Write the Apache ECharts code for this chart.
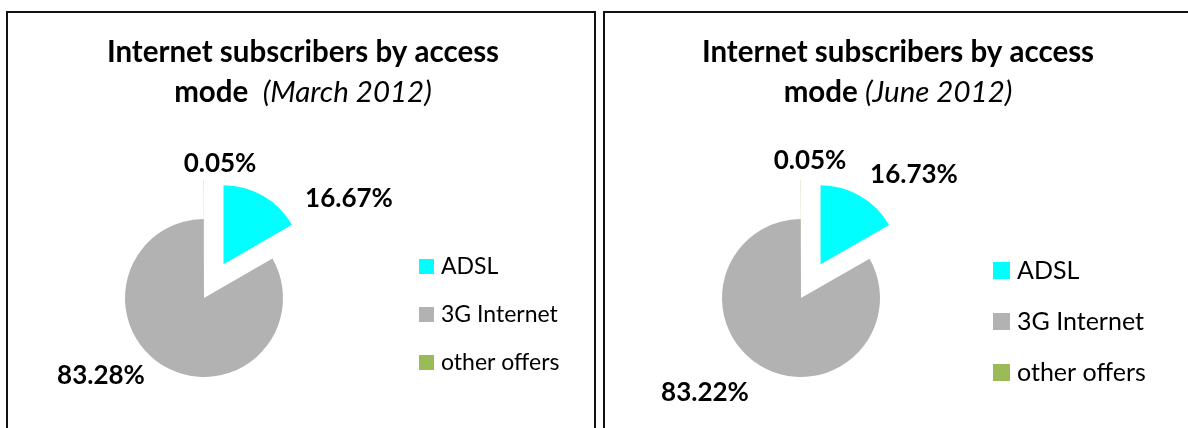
<!DOCTYPE html>
<html>
<head>
<meta charset="utf-8">
<script src="https://cdn.jsdelivr.net/npm/echarts@6/dist/echarts.min.js"></script>
<style>
html,body{margin:0;padding:0;background:#fff;}
#chart{width:1188px;height:428px;}
</style>
</head>
<body>
<div id="chart"></div>
<script>
// ---- data ----
const categories = ['ADSL', '3G Internet', 'other offers'];
const marchValues = [16.67, 83.28, 0.05];
const juneValues = [16.73, 83.22, 0.05];
const exploded = ['ADSL', 'other offers'];
const titleMain = 'Internet subscribers by access';
const titleMarch = '(March 2012)';
const titleJune = '(June 2012)';

// ---- styles ----
const colors = ['#00FFFF', '#B2B2B2', '#9BBB59'];
const FONT = 'Lato, "Open Sans", sans-serif';
// label centers per panel (style/layout)
const labelPosLeft = [[349, 199], [101, 376], [220, 164]];
const labelPosRight = [[914, 175], [705, 393], [810, 161]];

function buildData(values, transparent) {
  return categories.map((name, i) => ({
    name: name,
    value: values[i],
    selected: !transparent && exploded.indexOf(name) >= 0,
    itemStyle: { color: transparent ? 'rgba(0,0,0,0)' : colors[i] }
  }));
}

// visible sectors (with exploded slices)
function pieSeries(values, center) {
  return {
    type: 'pie',
    center: center,
    radius: 79,
    startAngle: 90,
    clockwise: true,
    selectedMode: 'multiple',
    selectedOffset: 39,
    silent: true,
    label: { show: false },
    labelLine: { show: false },
    emphasis: { disabled: true },
    data: buildData(values, false)
  };
}

// transparent overlay carrying the value labels
function labelSeries(values, center, pos) {
  return {
    type: 'pie',
    center: center,
    radius: 79,
    startAngle: 90,
    clockwise: true,
    silent: true,
    avoidLabelOverlap: false,
    label: {
      show: true,
      position: 'outside',
      formatter: p => p.value.toFixed(2) + '%',
      fontFamily: FONT,
      fontWeight: 'bold',
      fontSize: 26,
      color: '#000'
    },
    labelLine: { show: false },
    labelLayout: function (params) {
      const p = pos[params.dataIndex];
      return { x: p[0], y: p[1], align: 'center', verticalAlign: 'middle' };
    },
    emphasis: { disabled: true },
    data: buildData(values, true)
  };
}

function makeTitle(x, sub, sep) {
  const fs = 29.5;
  return {
    text: titleMain + '\n{b|mode}' + sep + '{i|' + sub + '}',
    left: x,
    top: 32,
    textAlign: 'center',
    padding: 0,
    textStyle: {
      fontFamily: FONT,
      fontWeight: 'bold',
      fontSize: fs,
      lineHeight: 40,
      color: '#000',
      rich: {
        b: { fontFamily: FONT, fontWeight: 'bold', fontSize: fs, lineHeight: 40, color: '#000' },
        i: { fontFamily: FONT, fontStyle: 'italic', fontWeight: 'normal', fontSize: fs, lineHeight: 40, color: '#000' }
      }
    }
  };
}

const chart = echarts.init(document.getElementById('chart'), null, { renderer: 'canvas' });
chart.setOption({
  animation: false,
  backgroundColor: '#fff',
  title: [
    makeTitle(303, titleMarch, '  '),
    makeTitle(898, titleJune, ' ')
  ],
  legend: [
    {
      data: categories,
      orient: 'vertical',
      left: 419,
      top: 255,
      padding: 0,
      itemWidth: 15,
      itemHeight: 15,
      itemGap: 25,
      icon: 'rect',
      selectedMode: false,
      textStyle: { fontFamily: FONT, fontSize: 23, color: '#000', padding: [0, 0, 0, 2] }
    },
    {
      data: categories,
      orient: 'vertical',
      left: 993,
      top: 258,
      padding: 0,
      itemWidth: 17,
      itemHeight: 17,
      itemGap: 26,
      icon: 'rect',
      selectedMode: false,
      textStyle: { fontFamily: FONT, fontSize: 25, color: '#000', padding: [0, 0, 0, 2] }
    }
  ],
  graphic: [
    { type: 'polyline', silent: true, shape: { points: [[7, 440], [7, 12], [595, 12], [595, 440]] }, style: { stroke: '#111', lineWidth: 2, fill: null } },
    { type: 'polyline', silent: true, shape: { points: [[604, 440], [604, 12], [1200, 12]] }, style: { stroke: '#111', lineWidth: 2, fill: null } }
  ],
  series: [
    pieSeries(marchValues, [204, 298]),
    pieSeries(juneValues, [801, 298]),
    labelSeries(marchValues, [204, 298], labelPosLeft),
    labelSeries(juneValues, [801, 298], labelPosRight)
  ]
});
</script>
</body>
</html>
